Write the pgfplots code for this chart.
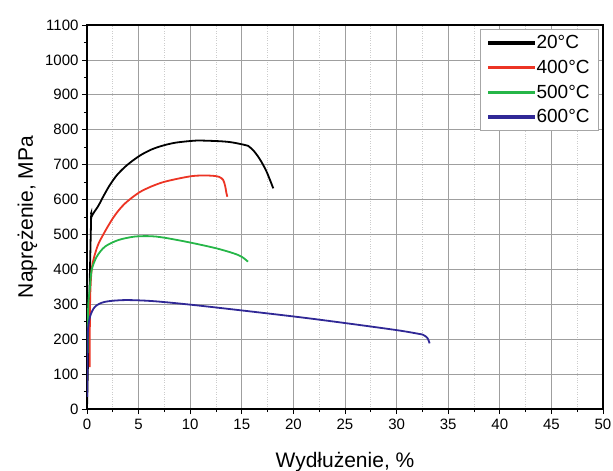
\documentclass[border=0pt]{standalone}
\usepackage{pgfplots}
\pgfplotsset{compat=1.18}
\usepackage{fontspec}
\setmainfont{Liberation Sans}
\definecolor{cred}{RGB}{236,52,36}
\definecolor{cgreen}{RGB}{38,182,72}
\definecolor{cblue}{RGB}{48,40,150}
\begin{document}
\begin{tikzpicture}
\begin{axis}[
  scale only axis, width=516bp, height=384bp,
  xmin=0, xmax=50, ymin=0, ymax=1100,
  xtick={0,5,...,50}, ytick={0,100,...,1100},
  minor x tick num=1, minor y tick num=1,
  tick pos=left, tick align=outside,
  major tick length=5bp, minor tick length=3bp,
  tick style={black, line width=0.8bp},
  axis line style={black, line width=1.2bp},
  grid=major, xminorgrids=true,
  major grid style={gray!75, line width=0.7bp},
  minor grid style={gray!40, dotted, line width=0.6bp},
  /pgf/number format/assume math mode=true,
  /pgf/number format/1000 sep={},
  ticklabel style={font=\fontsize{15bp}{17bp}\selectfont},
  xticklabel style={yshift=-2bp},
  xlabel={Wydłużenie, \%},
  ylabel={Naprężenie, MPa},
  label style={font=\fontsize{21bp}{24bp}\selectfont},
  xlabel style={at={(0.5,0)}, anchor=base, yshift=-58bp},
  ylabel style={at={(0,0.5)}, anchor=base, yshift=54bp},
  legend style={at={(1,1)}, anchor=north east, xshift=-4bp, yshift=-4bp,
    draw=gray!70, line width=0.8bp, font=\fontsize{19bp}{22bp}\selectfont,
    inner xsep=7bp, inner ysep=4bp, row sep=6bp},
  legend cell align=left,
  legend image code/.code={\fill[#1] (0bp,-0.85bp) rectangle (45bp,0.85bp);},
  every axis plot/.append style={line width=1.8bp, smooth, tension=0.5},
]
\addplot[black] coordinates {(0,0) (0.38,520) (0.45,551) (1.1,582) (1.6,610) (2.2,641) (2.9,670) (3.7,694) (4.5,713) (5.3,729) (6.3,744) (7.4,755) (8.6,763) (10.14,768) (11,769) (12.9,767) (14,764) (15.2,757) (15.6,754) (16.2,738) (16.8,713) (17.4,680) (18.05,632)};
\addplot[cred] coordinates {(0.26,120) (0.28,250) (0.33,340) (0.5,410) (1.0,465) (1.58,500) (2.39,541) (3.04,568) (3.8,592) (5.04,620) (6.2,637) (7.4,650) (8.85,660) (10.14,667) (11.2,669) (12.2,668) (12.8,665) (13.2,656) (13.4,637) (13.5,620) (13.6,608)};
\addplot[cgreen] coordinates {(0.06,160) (0.09,250) (0.13,303) (0.29,350) (0.45,398) (0.94,436) (1.74,465) (3.04,484) (4.65,494) (6.2,495) (7.2,492) (8.4,486) (10.3,475) (12.57,460) (14.2,446) (15,436) (15.6,422)};
\addplot[cblue] coordinates {(0.02,35) (0.04,120) (0.07,217) (0.29,264) (0.78,293) (1.74,307) (3.68,312) (6.4,309) (10.3,298) (15.1,282) (20.6,263) (24.8,247) (30.0,226) (32.2,215) (32.6,212) (33.0,203) (33.2,188)};
\legend{20°C,400°C,500°C,600°C}
\end{axis}
\pgfresetboundingbox
\useasboundingbox (-87bp,-62bp) rectangle (526bp,409bp);
\end{tikzpicture}
\end{document}
